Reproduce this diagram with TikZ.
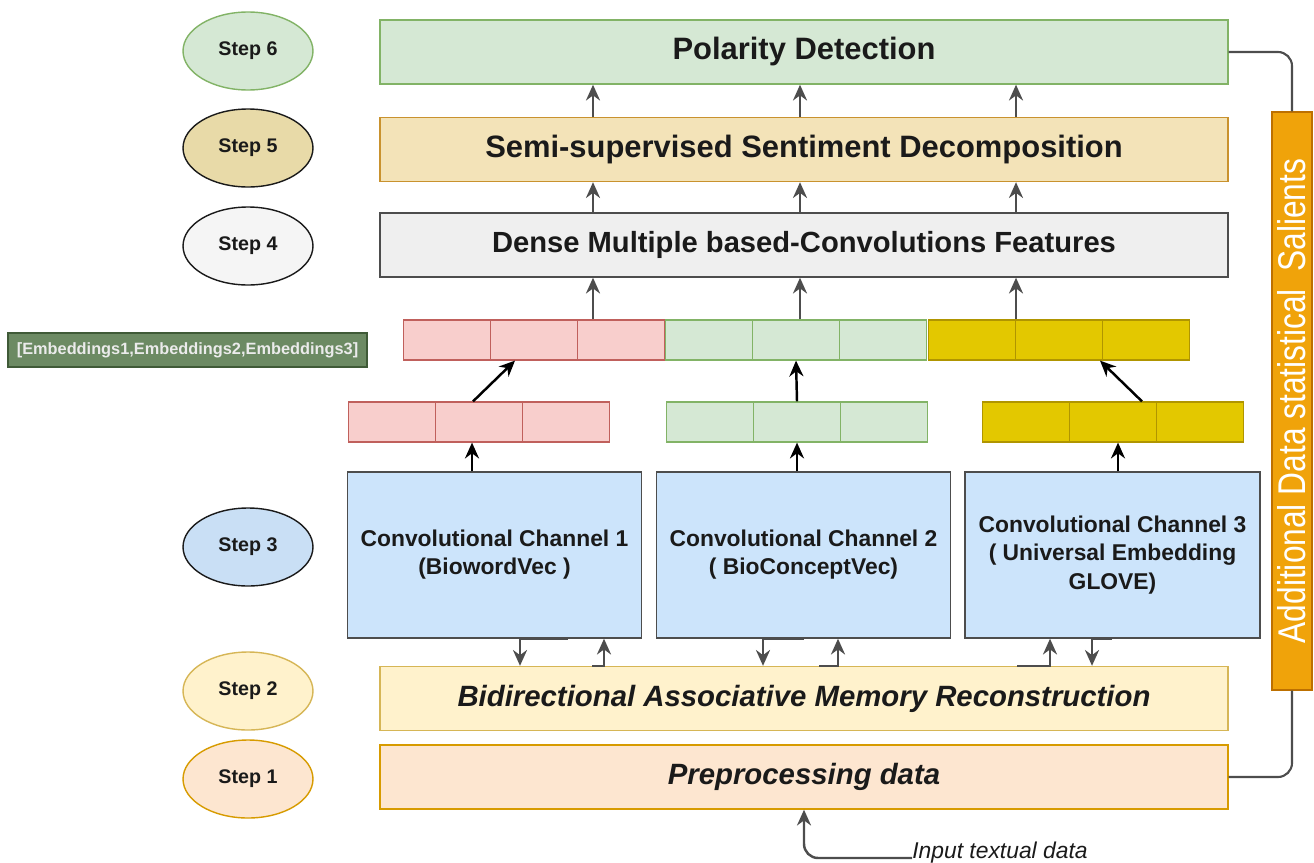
\documentclass[tikz,border=0pt]{standalone}
\usepackage{fontspec}
\setmainfont{Liberation Sans}
\usetikzlibrary{positioning, shapes.geometric, arrows.meta}

\definecolor{greenfill}{HTML}{D5E8D4}
\definecolor{greenline}{HTML}{82B366}
\definecolor{khakifill}{HTML}{F3E3B8}
\definecolor{khakiline}{HTML}{C9922E}
\definecolor{khakiell}{HTML}{E8DAA8}
\definecolor{greyfill}{HTML}{EFEFEF}
\definecolor{greyell}{HTML}{F5F5F5}
\definecolor{bluefill}{HTML}{CCE4FB}
\definecolor{bluestep}{HTML}{C9DFF5}
\definecolor{creamfill}{HTML}{FFF2CC}
\definecolor{creamline}{HTML}{D6B656}
\definecolor{peachfill}{HTML}{FDE6D0}
\definecolor{peachline}{HTML}{D79B00}
\definecolor{redfill}{HTML}{F8CECC}
\definecolor{redline}{HTML}{C0605C}
\definecolor{yelfill}{HTML}{E3C800}
\definecolor{yelline}{HTML}{B09500}
\definecolor{barfill}{HTML}{F0A30A}
\definecolor{barline}{HTML}{BD7000}
\definecolor{embfill}{HTML}{6C8A63}
\definecolor{embline}{HTML}{3F5A37}
\definecolor{arrowgrey}{HTML}{4D4D4D}
\definecolor{darktext}{HTML}{1A1A1A}

\tikzset{
  stepnode/.style={ellipse, draw=#1, line width=0.8pt, minimum width=2.6cm, minimum height=1.56cm,
    inner sep=0pt, text=darktext, font=\fontsize{11.2}{13}\selectfont\bfseries},
  stagebox/.style={rectangle, line width=0.8pt, minimum width=16.96cm, minimum height=1.28cm,
    inner sep=0pt, text=darktext, font=\fontsize{17.6}{20}\selectfont\bfseries},
  chanbox/.style={rectangle, draw=arrowgrey, fill=bluefill, line width=0.8pt, minimum width=5.88cm,
    minimum height=3.32cm, inner sep=0pt, align=center, text=darktext,
    font=\fontsize{13}{16}\selectfont\bfseries},
  cell/.style={rectangle, line width=0.7pt, minimum width=1.74cm, minimum height=0.8cm, inner sep=0pt},
  garrow/.style={draw=arrowgrey, line width=1.4pt, -{Stealth[length=9pt,width=8pt]}},
  barrow/.style={draw=black, line width=1.4pt, -{Stealth[length=9pt,width=8pt]}},
  gline/.style={draw=arrowgrey, line width=1.2pt}
}

\begin{document}
\begin{tikzpicture}[x=0.02cm, y=-0.02cm]
\useasboundingbox (0,0) rectangle (1314,862);

\node [stepnode=greenline, fill=greenfill] (s6) at (248,51) {Step 6};
\node [stepnode=darktext, fill=khakiell] (s5) at (248,148) {Step 5};
\node [stepnode=darktext, fill=greyell] (s4) at (248,246) {Step 4};
\node [stepnode=darktext, fill=bluestep] (s3) at (248,547) {Step 3};
\node [stepnode=creamline, fill=creamfill] (s2) at (248,691) {Step 2};
\node [stepnode=peachline, fill=peachfill] (s1) at (248,779) {Step 1};

\node [stagebox, draw=greenline, fill=greenfill] (polar) at (804,52) {Polarity Detection};
\node [stagebox, draw=khakiline, fill=khakifill] (semi) at (804,149.5) {Semi-supervised Sentiment Decomposition};
\node [stagebox, draw=arrowgrey, fill=greyfill, font=\fontsize{16.6}{19}\selectfont\bfseries] (dense) at (804,245) {Dense Multiple based-Convolutions Features};
\node [stagebox, draw=creamline, fill=creamfill, font=\fontsize{16.7}{19}\selectfont\bfseries\itshape] (bam) at (804,698.5) {Bidirectional Associative Memory Reconstruction};
\node [stagebox, draw=peachline, fill=peachfill, font=\fontsize{16.7}{20}\selectfont\bfseries\itshape] (prep) at (804,777) {Preprocessing data};

\node [rectangle, draw=embline, fill=embfill, line width=0.7pt, minimum width=7.18cm, minimum height=0.68cm,
  inner sep=0pt, text=white!92!black, font=\fontsize{9.3}{11}\selectfont\bfseries] (emb) at (187.5,350) {[Embeddings1,Embeddings2,Embeddings3]};

\foreach \n/\x in {1/446.7, 2/534, 3/621.3}
  \node [cell, draw=redline, fill=redfill] (topR\n) at (\x,340) {};
\foreach \n/\x in {1/708.7, 2/796, 3/883.3}
  \node [cell, draw=greenline, fill=greenfill] (topG\n) at (\x,340) {};
\foreach \n/\x in {1/972.3, 2/1059, 3/1145.7}
  \node [cell, draw=yelline, fill=yelfill] (topY\n) at (\x,340) {};
\foreach \n/\x in {1/391.7, 2/479, 3/566.3}
  \node [cell, draw=redline, fill=redfill] (lowR\n) at (\x,422) {};
\foreach \n/\x in {1/710.3, 2/797, 3/883.7}
  \node [cell, draw=greenline, fill=greenfill] (lowG\n) at (\x,422) {};
\foreach \n/\x in {1/1026.3, 2/1113, 3/1199.7}
  \node [cell, draw=yelline, fill=yelfill] (lowY\n) at (\x,422) {};

\node [chanbox] (ch1) at (494.5,555) {Convolutional Channel 1\\(BiowordVec )};
\node [chanbox] (ch2) at (803.5,555) {Convolutional Channel 2\\( BioConceptVec)};
\node [chanbox, minimum width=5.9cm] (ch3) at (1112.5,555) {Convolutional Channel 3\\( Universal Embedding\\GLOVE)};

\node [rectangle, draw=barline, fill=barfill, line width=0.8pt, minimum width=0.8cm, minimum height=11.56cm,
  inner sep=0pt, text=white, font=\fontsize{22}{24}\selectfont] (side) at (1292,401) {\rotatebox{90}{\scalebox{0.82}[1]{Additional Data statistical\ \ Salients}}};

\node [anchor=base west, inner sep=0pt, text=darktext, font=\fontsize{13}{15}\selectfont\itshape] (inp) at (912,858) {Input textual data};

\foreach \x in {593,800,1016} {
  \draw [garrow] (\x,0 |- semi.north) -- (\x,0 |- polar.south);
  \draw [garrow] (\x,0 |- dense.north) -- (\x,0 |- semi.south);
  \draw [garrow] (\x,0 |- topR1.north) -- (\x,0 |- dense.south);
}

\draw [barrow] (473,0 |- lowR2.north) -- (515,0 |- topR2.south);
\draw [barrow] (lowG2.north) -- (topG2.south);
\draw [barrow] (1142,0 |- lowY2.north) -- (1100,0 |- topY2.south);

\draw [barrow] (472,0 |- ch1.north) -- (472,0 |- lowR2.south);
\draw [barrow] (797,0 |- ch2.north) -- (797,0 |- lowG2.south);
\draw [barrow] (1118,0 |- ch3.north) -- (1118,0 |- lowY2.south);

\draw [garrow] (568,0 |- ch1.south) -| (520,0 |- bam.north);
\draw [garrow] (592,0 |- bam.north) -| (604,0 |- ch1.south);
\draw [garrow] (804,0 |- ch2.south) -| (763,0 |- bam.north);
\draw [garrow] (819,0 |- bam.north) -| (838,0 |- ch2.south);
\draw [garrow] (1017,0 |- bam.north) -| (1050,0 |- ch3.south);
\draw [garrow] (1112,0 |- ch3.south) -| (1092,0 |- bam.north);

\draw [gline, rounded corners=8pt] (polar.east) -| (side.north);
\draw [gline, rounded corners=8pt] (side.south) |- (prep.east);
\draw [garrow, rounded corners=8pt] (inp.base west) -| (prep.south);
\end{tikzpicture}
\end{document}
